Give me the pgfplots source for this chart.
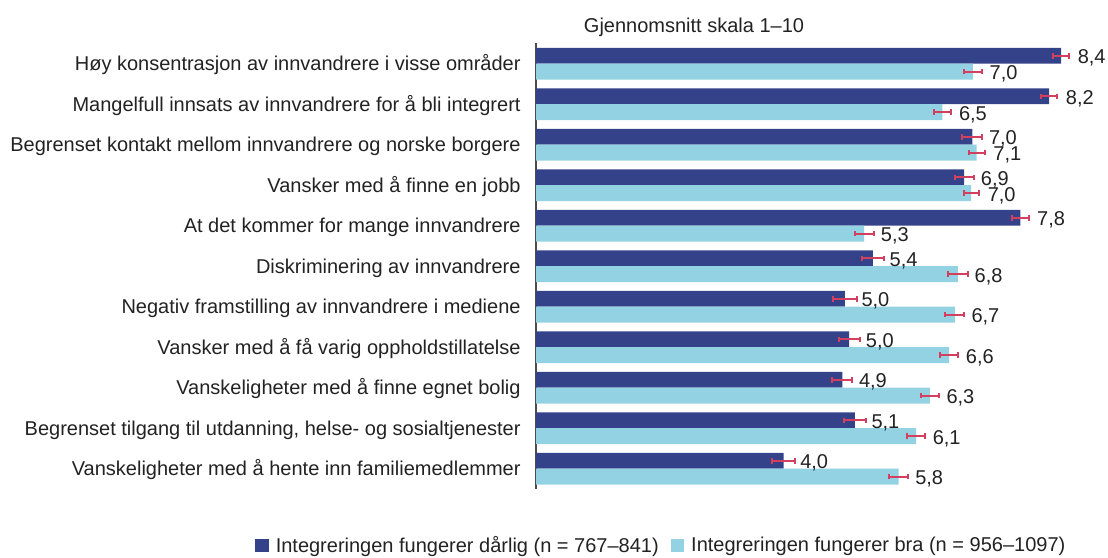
\documentclass[border=0pt]{standalone}
\usepackage{fontspec}
\setmainfont{Liberation Sans}
\usepackage{pgfplots}
\pgfplotsset{compat=1.18}
\definecolor{darkbar}{HTML}{34428A}
\definecolor{lightbar}{HTML}{93D2E2}
\definecolor{errred}{HTML}{D3405F}
\definecolor{txt}{HTML}{222222}

\begin{document}
\begin{tikzpicture}
\path[use as bounding box] (0,0) rectangle (554pt,278.5pt);
\node[anchor=base, inner sep=0pt, font=\fontsize{10}{12}\selectfont, text=txt] at (347pt,262.35pt) {Gjennomsnitt skala 1–10};
\begin{axis}[
  at={(268pt,34pt)}, anchor=south west,
  scale only axis, width=281.25pt, height=222.75pt,
  xmin=0, xmax=9, ymin=-0.5, ymax=10.5,
  axis x line=none, axis y line*=left,
  y axis line style={draw=black!70, line width=0.75pt},
  major tick length=0pt, ytick style={draw=none},
  ytick={0,...,10},
  yticklabels={
    Vanskeligheter med å hente inn familiemedlemmer,
    {Begrenset tilgang til utdanning, helse- og sosialtjenester},
    Vanskeligheter med å finne egnet bolig,
    Vansker med å få varig oppholdstillatelse,
    Negativ framstilling av innvandrere i mediene,
    Diskriminering av innvandrere,
    At det kommer for mange innvandrere,
    Vansker med å finne en jobb,
    Begrenset kontakt mellom innvandrere og norske borgere,
    Mangelfull innsats av innvandrere for å bli integrert,
    Høy konsentrasjon av innvandrere i visse områder},
  yticklabel style={anchor=base east, inner sep=0pt, xshift=-7.5pt, yshift=-3.6pt, font=\fontsize{10}{12}\selectfont, text=txt},
  xbar, bar width=7.9pt,
  point meta=explicit symbolic,
  nodes near coords,
  every node near coord/.append style={anchor=base west, inner sep=0pt, xshift=8.2pt, yshift=-4pt, font=\fontsize{10}{12}\selectfont, text=txt},
  legend style={draw=none, fill=none, at={(-0.4996,-0.1268)}, anchor=west, legend columns=2, inner sep=0pt,
    font=\fontsize{10}{12}\selectfont, text=txt,
    /tikz/every even column/.append style={column sep=6pt},
    nodes={inner sep=0pt}},
  legend image code/.code={\fill[#1] (0pt,-3.3pt) rectangle (6.8pt,3.3pt); \path (10.2pt,0pt);},
  clip=false,
]
\addplot+[fill=darkbar, draw=none, bar shift=3.95pt,
  error bars/.cd, x dir=both, x explicit,
  error bar style={color=errred, line width=1pt},
  error mark options={color=errred, line width=1pt, mark size=1.4pt, rotate=90}]
  table[x=x, y=y, x error=e, meta=l] {
y x e l
10 8.40 0.13 8,4
9 8.21 0.13 8,2
8 6.98 0.16 7,0
7 6.85 0.15 6,9
6 7.75 0.14 7,8
5 5.39 0.17 5,4
4 4.94 0.19 5,0
3 5.01 0.17 5,0
2 4.90 0.16 4,9
1 5.10 0.18 5,1
0 3.96 0.18 4,0
};
\addplot+[fill=lightbar, draw=none, bar shift=-3.95pt,
  error bars/.cd, x dir=both, x explicit,
  error bar style={color=errred, line width=1pt},
  error mark options={color=errred, line width=1pt, mark size=1.4pt, rotate=90}]
  table[x=x, y=y, x error=e, meta=l] {
y x e l
10 6.99 0.15 7,0
9 6.50 0.14 6,5
8 7.05 0.13 7,1
7 6.96 0.12 7,0
6 5.25 0.15 5,3
5 6.75 0.16 6,8
4 6.70 0.15 6,7
3 6.61 0.14 6,6
2 6.30 0.14 6,3
1 6.08 0.15 6,1
0 5.80 0.15 5,8
};
\legend{Integreringen fungerer dårlig (n = 767–841), Integreringen fungerer bra (n = 956–1097)}
\end{axis}
\end{tikzpicture}
\end{document}
